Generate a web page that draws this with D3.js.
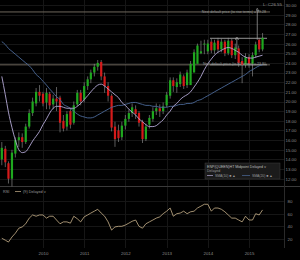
<!DOCTYPE html>
<html>
<head>
<meta charset="utf-8">
<script src="https://cdn.jsdelivr.net/npm/d3@7"></script>
<style>
  body { margin: 0; background: #000; }
  svg { display: block; font-family: "Liberation Sans", Arial, sans-serif; }
</style>
</head>
<body>
<svg id="chart"></svg>
<script>
// monthly candles, Jan 2009 .. May 2015
const startYear = 2009;
const opens  = [14.0,15.1,13.6,12.0,14.6,16.0,16.3,15.8,17.4,18.8,19.8,21.0,
                20.8,19.9,20.8,19.7,20.3,20.4,18.0,17.4,19.0,17.8,19.7,20.9,
                20.2,21.6,22.3,23.0,23.6,24.1,22.6,21.6,20.6,17.4,17.0,16.3,
                17.5,18.2,18.8,19.2,18.8,17.9,16.1,17.6,18.2,19.0,19.3,19.0,
                19.6,20.6,22.2,21.5,21.8,22.6,21.7,21.7,23.0,23.9,25.0,25.9,
                25.2,26.2,25.3,26.3,25.4,26.2,25.0,26.3,24.8,25.5,24.2,23.8,
                24.6,23.9,24.8,26.4,25.4];
const highs  = [15.8,15.4,13.8,15.0,16.3,16.8,16.7,17.7,19.2,20.4,21.4,21.7,
                21.0,21.4,21.0,20.7,21.5,20.6,18.6,19.0,19.3,20.0,21.2,21.2,
                22.0,22.6,23.3,23.9,24.3,24.3,23.0,22.0,20.8,17.9,17.6,17.9,
                18.6,19.2,19.8,19.6,19.0,18.1,17.7,18.6,19.4,19.8,19.7,19.9,
                21.0,22.5,22.5,22.4,23.1,22.8,23.3,24.2,25.4,26.0,26.3,26.4,
                26.4,26.5,26.4,26.6,26.5,26.4,26.6,26.5,26.0,25.8,24.6,25.0,
                24.9,25.1,26.2,26.6,27.1];
const lows   = [13.4,13.2,11.5,11.2,14.2,15.3,15.2,15.6,17.2,18.5,19.5,20.0,
                19.5,19.2,19.2,19.2,19.0,16.8,16.9,17.0,17.2,17.6,19.5,19.6,
                19.9,21.2,21.9,22.6,23.2,22.2,20.9,20.0,16.9,15.3,15.8,16.0,
                17.1,17.9,18.4,18.2,17.4,15.7,15.9,17.2,17.9,18.6,18.4,18.7,
                19.4,20.3,21.0,20.9,21.5,21.3,21.4,22.8,23.6,24.7,24.9,24.9,
                24.9,25.0,24.9,25.1,25.1,24.7,24.8,24.5,24.4,23.6,21.9,23.5,
                23.5,22.6,24.5,25.1,25.2];
const closes = [15.2,13.7,12.0,14.7,16.0,16.3,15.8,17.4,18.8,20.0,21.0,20.6,
                19.8,20.9,19.6,20.3,20.0,17.8,17.2,18.7,17.6,19.6,20.9,20.0,
                21.6,22.3,23.0,23.6,24.0,22.6,21.6,20.6,17.3,16.1,16.2,17.5,
                18.2,18.8,19.4,18.7,17.8,16.1,17.4,18.3,19.0,19.3,19.0,19.5,
                20.7,22.2,21.6,22.0,22.8,21.6,23.0,23.9,25.1,25.8,25.2,26.0,
                26.0,25.3,26.1,25.4,26.2,25.0,26.3,24.8,25.6,24.0,23.8,24.6,
                23.9,24.8,25.9,25.4,26.6];
const smaShort = [22.6,20.7,18.9,17.3,16.0,15.0,14.7,14.8,15.3,15.9,16.4,16.9,
                  17.6,18.2,18.8,19.3,19.5,19.5,19.4,19.3,19.3,19.3,19.5,19.8,
                  20.2,20.6,21.0,21.4,21.7,21.8,21.6,21.3,21.0,20.7,20.4,19.9,
                  19.6,19.2,18.9,18.6,18.2,17.9,17.6,17.4,17.4,17.5,17.8,18.1,
                  18.6,19.0,19.5,19.8,20.2,20.5,20.7,21.0,21.5,22.0,22.6,23.3,
                  23.9,24.4,24.8,25.1,25.3,25.5,25.6,25.5,25.3,25.1,24.8,24.6,
                  24.5,24.5,24.6,24.7,24.8];
const smaLong  = [26.2,25.9,25.5,25.2,24.9,24.6,24.3,24.0,23.7,23.3,22.8,22.5,
                  22.1,21.7,21.3,20.9,20.5,20.2,19.7,19.5,19.3,19.0,18.7,18.5,
                  18.4,18.3,18.3,18.4,18.6,18.8,19.0,19.2,19.4,19.5,19.6,19.6,
                  19.7,19.8,19.9,19.9,19.8,19.7,19.6,19.6,19.5,19.5,19.4,19.4,
                  19.4,19.5,19.5,19.6,19.7,19.7,19.8,19.8,19.9,20.1,20.2,20.4,
                  20.6,20.8,21.0,21.2,21.4,21.6,21.8,22.0,22.2,22.4,22.6,22.8,
                  23.1,23.3,23.5,23.7,23.8];
const rsi = [21,18,15,23,29,37,39,44,53,58,56,58,
             58,53,56,56,50,44,47,47,45,56,52,47,
             55,58,61,64,67,61,56,47,34,39,40,40,
             42,45,48,50,40,37,44,47,50,53,55,60,
             64,69,56,60,61,64,60,63,64,69,72,75,
             75,64,69,69,67,63,58,53,53,50,47,56,
             50,50,60,58,66];
const priceTicks = d3.range(12, 31);
const rsiTicks = [20, 40, 60, 80];
const yearTicks = [2010, 2011, 2012, 2013, 2014, 2015];
const rangeTop = 26.55, rangeBottom = 23.80, target = 29.28;

const W = 300, H = 260, plotRight = 284;
const svg = d3.select('#chart').attr('width', W).attr('height', H);
svg.append('rect').attr('width', W).attr('height', H).attr('fill', '#000');

const data = closes.map((c, i) => ({
  date: new Date(startYear, i, 1),
  open: opens[i], high: highs[i], low: lows[i], close: c,
  s1: smaShort[i], s2: smaLong[i], rsi: rsi[i]
}));

const x = d3.scaleTime()
  .domain([new Date(2008, 11, 16), new Date(2015, 10, 7)])
  .range([0, plotRight]);
const y = d3.scaleLinear().domain([12, 30]).range([178.7, 5]);
const yR = d3.scaleLinear().domain([0, 100]).range([251.5, 188.5]);

// grid
const grid = svg.append('g').attr('stroke', '#161616').attr('stroke-width', 1);
grid.selectAll('.gy').data(priceTicks).join('line')
  .attr('x1', 0).attr('x2', plotRight)
  .attr('y1', d => Math.round(y(d)) + 0.5).attr('y2', d => Math.round(y(d)) + 0.5);
grid.selectAll('.gr').data(rsiTicks).join('line')
  .attr('x1', 0).attr('x2', plotRight)
  .attr('y1', d => Math.round(yR(d)) + 0.5).attr('y2', d => Math.round(yR(d)) + 0.5);
grid.selectAll('.gx').data(yearTicks).join('line')
  .attr('x1', d => Math.round(x(new Date(d, 0, 1))) + 0.5)
  .attr('x2', d => Math.round(x(new Date(d, 0, 1))) + 0.5)
  .attr('y1', 0).attr('y2', 248);

// panel separators
svg.append('line').attr('x1', 0).attr('x2', W).attr('y1', 186.5).attr('y2', 186.5)
  .attr('stroke', '#3a3a3a');
svg.append('line').attr('x1', plotRight + 0.5).attr('x2', plotRight + 0.5)
  .attr('y1', 0).attr('y2', 248).attr('stroke', '#2a2a2a');

// level lines
svg.selectAll('.lvl').data([target, rangeBottom]).join('line')
  .attr('x1', 0).attr('x2', 270)
  .attr('y1', d => y(d)).attr('y2', d => y(d))
  .attr('stroke', '#6e665c').attr('stroke-width', 1);
svg.append('line').attr('x1', 210).attr('x2', 267)
  .attr('y1', y(rangeTop)).attr('y2', y(rangeTop))
  .attr('stroke', '#bdbdbd').attr('stroke-width', 0.8);
svg.append('line').attr('x1', 210).attr('x2', 267)
  .attr('y1', y(rangeBottom)).attr('y2', y(rangeBottom))
  .attr('stroke', '#a9a9a9').attr('stroke-width', 0.8);

// candles
const bw = 2.2;
const candles = svg.append('g');
candles.selectAll('.wick').data(data).join('line')
  .attr('x1', d => x(d.date)).attr('x2', d => x(d.date))
  .attr('y1', d => y(d.high)).attr('y2', d => y(d.low))
  .attr('stroke', '#9a9a9a').attr('stroke-width', 0.6);
candles.selectAll('.body').data(data).join('rect')
  .attr('x', d => x(d.date) - bw / 2)
  .attr('y', d => y(Math.max(d.open, d.close)))
  .attr('width', bw)
  .attr('height', d => Math.max(1, Math.abs(y(d.open) - y(d.close))))
  .attr('fill', d => d.close >= d.open ? '#1fa81f' : '#d61a1a');

// moving averages
const line = key => d3.line().x(d => x(d.date)).y(d => y(d[key])).curve(d3.curveMonotoneX);
svg.append('path').datum(data).attr('d', line('s2'))
  .attr('fill', 'none').attr('stroke', '#4c6a9a').attr('stroke-width', 0.9);
svg.append('path').datum(data).attr('d', line('s1'))
  .attr('fill', 'none').attr('stroke', '#b4a9d6').attr('stroke-width', 0.9);

// arrows
const arrows = [{ date: new Date(2015, 2, 15), from: 26.4, to: target + 0.2 },
                { date: new Date(2014, 8, 15), from: 25.4, to: rangeTop }];
svg.append('defs').append('marker').attr('id', 'ah')
  .attr('viewBox', '0 0 6 6').attr('refX', 3).attr('refY', 3)
  .attr('markerWidth', 5).attr('markerHeight', 5).attr('orient', 'auto')
  .append('path').attr('d', 'M0,0L6,3L0,6').attr('fill', 'none').attr('stroke', '#bbb');
svg.selectAll('.arr').data(arrows).join('line')
  .attr('x1', d => x(d.date)).attr('x2', d => x(d.date))
  .attr('y1', d => y(d.from)).attr('y2', d => y(d.to))
  .attr('stroke', '#aaa').attr('stroke-width', 0.7).attr('marker-end', 'url(#ah)');

// RSI
svg.append('path').datum(data)
  .attr('d', d3.line().x(d => x(d.date)).y(d => yR(d.rsi)))
  .attr('fill', 'none').attr('stroke', '#c9b28c').attr('stroke-width', 0.8);

// axes
const axisStyle = g => {
  g.select('.domain').remove();
  g.selectAll('.tick line').remove();
  g.selectAll('text').attr('fill', '#8c8c8c').attr('font-size', 4.4);
};
svg.append('g').attr('transform', `translate(${plotRight + 1.5},0)`)
  .call(d3.axisRight(y).tickValues(priceTicks).tickFormat(d3.format('.2f'))
    .tickSize(0).tickPadding(0))
  .call(axisStyle);
svg.append('g').attr('transform', `translate(${plotRight + 3.5},0)`)
  .call(d3.axisRight(yR).tickValues(rsiTicks).tickSize(0).tickPadding(0))
  .call(axisStyle);
svg.append('g').attr('transform', 'translate(0,249)')
  .call(d3.axisBottom(x).tickValues(yearTicks.map(v => new Date(v, 0, 1)))
    .tickFormat(d3.timeFormat('%Y')).tickSize(0).tickPadding(2.5))
  .call(axisStyle);

// texts
const txt = (tx, ty, s, size, fill, anchor) => svg.append('text')
  .attr('x', tx).attr('y', ty).attr('font-size', size).attr('fill', fill)
  .attr('text-anchor', anchor || 'start').text(s);
txt(282, 6, 'L: C26.55', 4.4, '#9a9a9a', 'end');
txt(266, 13, 'Next default price (to rise terms) = ' + target.toFixed(2), 3.6, '#9a9a9a', 'end');
txt(266, 64.5, 'Next default price (to fall terms) = ' + rangeBottom.toFixed(2), 3.6, '#9a9a9a', 'end');

// legends
svg.append('rect').attr('x', 205).attr('y', 163).attr('width', 75).attr('height', 16)
  .attr('fill', '#1b1b1b').attr('stroke', '#3c3c3c').attr('stroke-width', 0.5);
txt(207, 167.5, 'ENP(QUEEN)HT Midpoint Delayed  \u02c5', 3.6, '#bdbdbd');
txt(207, 172, 'Delayed', 3.6, '#9a9a9a');
svg.append('line').attr('x1', 207).attr('x2', 213).attr('y1', 175.5).attr('y2', 175.5)
  .attr('stroke', '#b4a9d6').attr('stroke-width', 0.7);
txt(215, 177, 'SMA(10) \u25a0 \u25b2', 3.4, '#9a9a9a');
svg.append('line').attr('x1', 242).attr('x2', 250).attr('y1', 175.5).attr('y2', 175.5)
  .attr('stroke', '#4c6a9a').attr('stroke-width', 0.7);
txt(252, 177, 'SMA(20) \u25a0 \u25b2', 3.4, '#9a9a9a');

txt(3, 193, 'RSI', 3.8, '#9a9a9a');
svg.append('line').attr('x1', 15).attr('x2', 21).attr('y1', 191.5).attr('y2', 191.5)
  .attr('stroke', '#c9b28c').attr('stroke-width', 0.7);
txt(23, 193, '(9) Delayed  \u02c5', 3.8, '#9a9a9a');
</script>
</body>
</html>
